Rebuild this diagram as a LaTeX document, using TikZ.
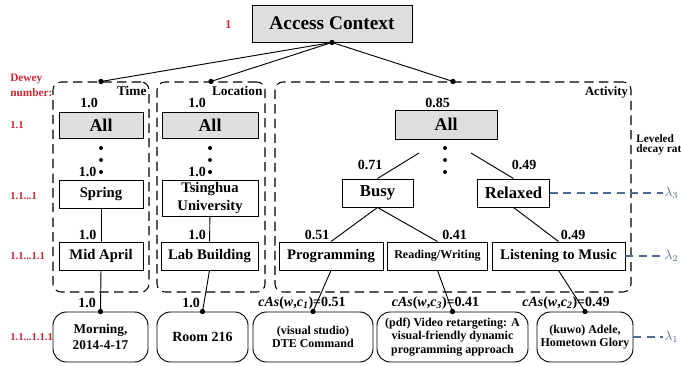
\documentclass[tikz,border=0pt]{standalone}
\usepackage{fontspec}
\setmainfont{Liberation Serif}
\usetikzlibrary{positioning}
\definecolor{boxgray}{RGB}{222,222,224}
\definecolor{deweyred}{RGB}{200,40,50}
\definecolor{lambdablue}{RGB}{80,108,150}
\tikzset{catnode/.style={draw, line width=0.7pt, align=center, inner sep=1pt,
           font=\bfseries\fontsize{11}{13}\selectfont},
         allnode/.style={catnode, fill=boxgray, font=\bfseries\fontsize{13.5}{15}\selectfont},
         leafnode/.style={draw, line width=0.7pt, rounded corners=10pt, align=center,
           inner sep=1pt, minimum height=37.5pt, font=\bfseries\fontsize{9}{10.3}\selectfont},
         groupframe/.style={draw, dash pattern=on 7pt off 4pt, line width=0.8pt,
           rounded corners=6pt, minimum height=157.5pt},
         grouplabel/.style={anchor=north east, inner sep=1pt, font=\bfseries\fontsize{10}{12}\selectfont},
         wlabel/.style={inner sep=0pt, font=\bfseries\fontsize{10.5}{12}\selectfont},
         caslabel/.style={inner sep=0pt, font=\bfseries\fontsize{10.5}{12}\selectfont},
         dewey/.style={anchor=west, align=left, inner sep=0pt, text=deweyred,
           font=\bfseries\fontsize{8}{11}\selectfont},
         link/.style={line width=0.7pt},
         decay/.style={draw=lambdablue, dash pattern=on 6pt off 4pt, line width=1pt},
         lam/.style={anchor=west, inner sep=1pt, text=lambdablue}}

\begin{document}
\begin{tikzpicture}[x=0.75pt, y=-0.75pt]
\useasboundingbox (0,0) rectangle (681,366);

\node[allnode, minimum width=120pt, minimum height=27.75pt,
      font=\bfseries\fontsize{14.5}{16}\selectfont] (root) at (332,23.5) {Access Context};

\node[groupframe, minimum width=72pt] (timeframe) at (101,187) {};
\node[groupframe, minimum width=81pt] (locframe) at (211,187) {};
\node[groupframe, minimum width=267pt] (actframe) at (453,187) {};
\node[grouplabel] (timelabel) at ([shift={(-1.5,3)}]timeframe.north east) {Time};
\node[grouplabel] (loclabel) at ([shift={(-1.5,3)}]locframe.north east) {Location};
\node[grouplabel, font=\bfseries\fontsize{9.5}{11}\selectfont] (actlabel) at ([shift={(-2,4)}]actframe.north east) {Activity};

\draw[link] (root.south) -- (timeframe.north);
\draw[link] (root.south) -- (locframe.north);
\draw[link] (root.south) -- (actframe.north);
\foreach \p in {root.south, timeframe.north, locframe.north, actframe.north}
  \fill (\p) circle (2pt);

\node[allnode, minimum width=63pt, minimum height=19.5pt] (timeall) at (101,125) {All};
\node[allnode, minimum width=72pt, minimum height=19.5pt] (locall) at (210,125) {All};
\node[allnode, minimum width=76.5pt, minimum height=21.75pt] (actall) at (446,124.5) {All};

\foreach \x in {101,210,445}
  \foreach \y in {148,160,172}
    \fill (\x,\y) circle (1.5pt);

\node[catnode, minimum width=63pt, minimum height=21pt] (spring) at (101,194) {Spring};
\node[catnode, minimum width=72pt, minimum height=27pt] (tsinghua) at (210,198) {Tsinghua\\University};
\node[catnode, minimum width=63pt, minimum height=21pt] (midapril) at (101,256) {Mid April};
\node[catnode, minimum width=72.75pt, minimum height=21pt] (labbuilding) at (209.5,256) {Lab Building};

\node[catnode, minimum width=53.25pt, minimum height=21pt,
      font=\bfseries\fontsize{12.5}{14}\selectfont] (busy) at (377.5,193) {Busy};
\node[catnode, minimum width=54pt, minimum height=21pt,
      font=\bfseries\fontsize{12.5}{14}\selectfont] (relaxed) at (513.5,193) {Relaxed};
\node[catnode, minimum width=78pt, minimum height=21pt] (programming) at (331,256) {Programming};
\node[catnode, minimum width=75pt, minimum height=21pt,
      font=\bfseries\fontsize{9}{11}\selectfont] (readwrite) at (437.5,256) {Reading/Writing};
\node[catnode, minimum width=99.75pt, minimum height=21pt] (listening) at (558.5,256) {Listening to Music};

\node[leafnode, minimum width=71.25pt, font=\bfseries\fontsize{10}{12.5}\selectfont] (morning) at (100.5,337) {Morning,\\2014-4-17};
\node[leafnode, minimum width=68.25pt, font=\bfseries\fontsize{10.5}{12}\selectfont] (room) at (202.5,337) {Room 216};
\node[leafnode, minimum width=90pt] (vstudio) at (313,337) {(visual studio)\\DTE Command};
\node[leafnode, minimum width=113.25pt] (pdf) at (452.5,337) {(pdf) Video retargeting: A\\visual-friendly dynamic\\programming approach};
\node[leafnode, minimum width=72pt] (kuwo) at (585,337) {(kuwo) Adele,\\Hometown Glory};

\coordinate (busyfrom) at (419,153);
\coordinate (relaxfrom) at (471,153);
\draw[link] (busyfrom) -- (busy.north);
\draw[link] (relaxfrom) -- (relaxed.north);
\draw[link] (spring) -- (midapril);
\draw[link] (tsinghua) -- (labbuilding);
\draw[link] (busy.south) -- (programming.north);
\draw[link] (busy.south) -- (readwrite.north);
\draw[link] (relaxed.south) -- (listening.north);
\draw[link] (midapril.south) -- (morning.north);
\draw[link] (labbuilding.south) -- (room.north);
\draw[link] (programming.south) -- (vstudio.north);
\draw[link] (readwrite.south) -- (pdf.north);
\draw[link] (listening.south) -- (kuwo.north);
\foreach \p in {morning, room, vstudio, pdf, kuwo}
  \fill (\p.north) circle (2pt);

\node[wlabel] (wtimeall) at (89,103) {1.0};
\node[wlabel] (wlocall) at (197,103) {1.0};
\node[wlabel] (wactall) at (437.5,103) {0.85};
\node[wlabel] (wspring) at (87.5,172) {1.0};
\node[wlabel] (wtsinghua) at (197,172) {1.0};
\node[wlabel] (wbusy) at (370,165) {0.71};
\node[wlabel] (wrelaxed) at (524,165) {0.49};
\node[wlabel] (wmidapril) at (87.5,235) {1.0};
\node[wlabel] (wlabbuilding) at (197,235) {1.0};
\node[wlabel] (wprogramming) at (317,235) {0.51};
\node[wlabel] (wreadwrite) at (454.5,235) {0.41};
\node[wlabel] (wlistening) at (573,235) {0.49};
\node[wlabel] (wmorning) at (87,303) {1.0};
\node[wlabel] (wroom) at (191,303) {1.0};
\node[caslabel] (cas1) at (302,303) {\textit{cAs}(\textit{w},\textit{c}\textsubscript{\textit{1}})=0.51};
\node[caslabel] (cas3) at (435.5,303) {\textit{cAs}(\textit{w},\textit{c}\textsubscript{\textit{3}})=0.41};
\node[caslabel] (cas2) at (566,303) {\textit{cAs}(\textit{w},\textit{c}\textsubscript{\textit{2}})=0.49};

\node[dewey, font=\bfseries\fontsize{9}{11}\selectfont] (droot) at (225,25) {1};
\node[dewey, font=\bfseries\fontsize{8.5}{11.25}\selectfont] (dhead) at (10,85.5) {Dewey\\number:};
\node[dewey] (dall) at (10,125) {1.1};
\node[dewey] (dmid) at (10,196) {1.1...1};
\node[dewey] (dlow) at (10,256) {1.1...1.1};
\node[dewey] (dleaf) at (10,337) {1.1...1.1.1};

\node[anchor=west, align=left, inner sep=0pt, font=\bfseries\fontsize{8.5}{7.5}\selectfont] (decaylabel) at (636,145) {Leveled\\decay rate};
\node[lam] (lam3) at (663,193) {$\lambda_3$};
\node[lam] (lam2) at (663,256) {$\lambda_2$};
\node[lam] (lam1) at (663,337) {$\lambda_1$};
\draw[decay] (relaxed.east) -- (lam3.west);
\draw[decay] (listening.east) -- (lam2.west);
\draw[decay] (kuwo.east) -- (lam1.west);
\end{tikzpicture}
\end{document}
